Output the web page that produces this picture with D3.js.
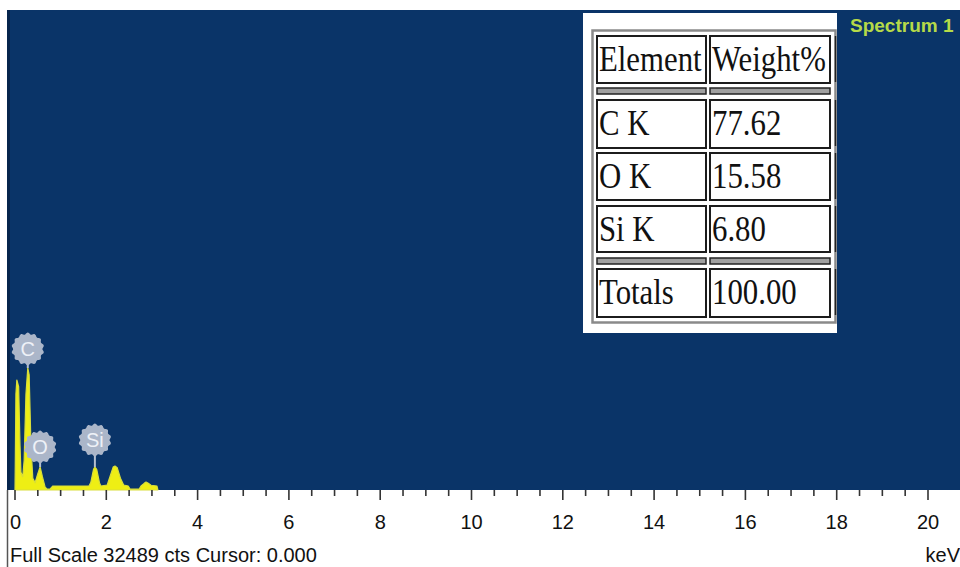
<!DOCTYPE html>
<html>
<head>
<meta charset="utf-8">
<script src="https://cdn.jsdelivr.net/npm/d3@7"></script>
<style>
  html, body { margin: 0; padding: 0; background: #ffffff; }
  svg { display: block; }
</style>
</head>
<body>
<svg id="chart" width="960" height="567"></svg>
<script>
// EDS spectrum: energy (keV) vs counts, with a quantification table.
const fullScale = 32489;
const energyKeV = [0.00, 0.005, 0.02, 0.04, 0.08, 0.11, 0.13, 0.17, 0.20, 0.24, 0.28, 0.31, 0.35,
  0.39, 0.44, 0.50, 0.55, 0.60, 0.66, 0.70, 0.77, 0.83, 1.62, 1.66, 1.72, 1.75, 1.79, 1.85, 1.88,
  2.02, 2.08, 2.15, 2.19, 2.24, 2.31, 2.38, 2.48, 2.52, 2.72, 2.76, 2.83, 2.87, 2.92, 2.98, 3.11, 3.13];
const counts = [0, 1500, 6500, 7446, 7000, 3000, 1200, 900, 2000, 6500, 8258, 7800, 3000,
  800, 500, 1100, 1557, 900, 200, 68, 68, 270, 270, 500, 1400, 1557, 1400, 500, 270,
  338, 900, 1550, 1625, 1500, 800, 338, 270, 68, 68, 270, 450, 541, 450, 320, 270, 0];

// Element line markers
const peakNames = ["C", "O", "Si"];
const peakKeV = [0.28, 0.55, 1.75];
const peakCounts = [8258, 1557, 1557];
const badgeCounts = [9544, 2911, 3385];

// Axis ticks
const tickLabels = [0, 2, 4, 6, 8, 10, 12, 14, 16, 18, 20];

// Quantification table
const tableHeader = ["Element", "Weight%"];
const tableElements = ["C K", "O K", "Si K"];
const tableWeights = ["77.62", "15.58", "6.80"];
const tableTotal = ["Totals", "100.00"];

const svg = d3.select("#chart");
const W = 960, H = 567;
const plot = { left: 7, top: 10, right: 960, bottom: 490 };

const x = d3.scaleLinear().domain([0, 20]).range([15, 928]);
const y = d3.scaleLinear().domain([0, fullScale]).range([plot.bottom, plot.top]);

// Plot background
svg.append("rect")
  .attr("x", plot.left).attr("y", plot.top)
  .attr("width", plot.right - plot.left).attr("height", plot.bottom - plot.top)
  .attr("fill", "#0a3468");
svg.append("rect")
  .attr("x", plot.left).attr("y", plot.top)
  .attr("width", 3).attr("height", plot.bottom - plot.top)
  .attr("fill", "#06254d");
// left frame line continuing under the axis
svg.append("line")
  .attr("x1", 7.5).attr("x2", 7.5).attr("y1", plot.bottom).attr("y2", H)
  .attr("stroke", "#555").attr("stroke-width", 1.5);

// Spectrum
const spectrum = energyKeV.map((e, i) => ({ e, c: counts[i] }));
const area = d3.area()
  .x(d => x(d.e))
  .y0(y(0))
  .y1(d => y(d.c))
  .curve(d3.curveLinear);
svg.append("path")
  .datum(spectrum)
  .attr("d", area)
  .attr("fill", "#eeee14")
  .attr("stroke", "#d9de3a")
  .attr("stroke-width", 1.2)
  .attr("stroke-linejoin", "round");

// Element badges
const gear = (r) => {
  const pts = d3.range(0, 360, 5).map(a => {
    const t = a * Math.PI / 180;
    return [t, r + 0.9 * Math.cos(14 * t)];
  });
  return d3.lineRadial().curve(d3.curveCardinalClosed)(pts);
};
const badgeR = 15.5;
const badges = svg.append("g").selectAll("g")
  .data(peakNames.map((n, i) => ({ n, e: peakKeV[i], pc: peakCounts[i], bc: badgeCounts[i] })))
  .join("g");
badges.append("line")
  .attr("x1", d => x(d.e)).attr("x2", d => x(d.e))
  .attr("y1", d => y(d.bc) + badgeR - 1).attr("y2", d => y(d.pc))
  .attr("stroke", "#b4bfd0").attr("stroke-width", 2);
badges.append("path")
  .attr("transform", d => `translate(${x(d.e)},${y(d.bc)})`)
  .attr("d", gear(badgeR))
  .attr("fill", "#abb6c9");
badges.append("text")
  .attr("x", d => x(d.e)).attr("y", d => y(d.bc) + 7)
  .attr("text-anchor", "middle")
  .attr("font-family", "Liberation Sans, Arial, sans-serif")
  .attr("font-size", 20)
  .attr("fill", "#eef1f7")
  .text(d => d.n);

// X axis ticks (every 0.5 keV, longer at labelled values)
const minorTicks = d3.range(0, 41).map(i => i * 0.5);
svg.append("g").selectAll("line")
  .data(minorTicks)
  .join("line")
  .attr("x1", d => x(d)).attr("x2", d => x(d))
  .attr("y1", plot.bottom)
  .attr("y2", d => plot.bottom + (d % 2 === 0 ? 10 : 6))
  .attr("stroke", "#333").attr("stroke-width", 1.6);

svg.append("g").selectAll("text")
  .data(tickLabels)
  .join("text")
  .attr("x", d => x(d)).attr("y", 529)
  .attr("text-anchor", d => d === 0 ? "start" : "middle")
  .attr("dx", d => d === 0 ? -5 : 0)
  .attr("font-family", "Liberation Sans, Arial, sans-serif")
  .attr("font-size", 20)
  .attr("fill", "#111")
  .text(d => d);

svg.append("text")
  .attr("x", 10).attr("y", 562)
  .attr("font-family", "Liberation Sans, Arial, sans-serif")
  .attr("font-size", 20)
  .attr("fill", "#111")
  .text(`Full Scale ${fullScale} cts Cursor: 0.000`);
svg.append("text")
  .attr("x", 960).attr("y", 562)
  .attr("text-anchor", "end")
  .attr("font-family", "Liberation Sans, Arial, sans-serif")
  .attr("font-size", 20)
  .attr("fill", "#111")
  .text("keV");

// Spectrum title
svg.append("text")
  .attr("x", 850).attr("y", 32)
  .attr("font-family", "Liberation Sans, Arial, sans-serif")
  .attr("font-size", 19)
  .attr("font-weight", "bold")
  .attr("fill", "#b6da48")
  .text("Spectrum 1");

// Quantification table
const tbl = svg.append("g");
tbl.append("rect")
  .attr("x", 583).attr("y", 13).attr("width", 254).attr("height", 320)
  .attr("fill", "#ffffff");
tbl.append("rect")
  .attr("x", 592.5).attr("y", 30.5).attr("width", 243).attr("height", 292)
  .attr("fill", "none").attr("stroke", "#8a8a8a").attr("stroke-width", 2.5);

const colX = [597, 710];
const colW = [109, 120];
const rows = [
  { type: "cell", top: 36, h: 47, vals: tableHeader },
  { type: "sep", top: 88, h: 6 },
  ...tableElements.map((el, i) => ({ type: "cell", top: [100, 153, 206][i], h: [48, 47, 46][i], vals: [el, tableWeights[i]] })),
  { type: "sep", top: 258, h: 6 },
  { type: "cell", top: 269, h: 48, vals: tableTotal }
];
rows.forEach(r => {
  colX.forEach((cx, j) => {
    if (r.type === "sep") {
      tbl.append("rect")
        .attr("x", cx).attr("y", r.top).attr("width", colW[j]).attr("height", r.h)
        .attr("fill", "#a0a0a0").attr("stroke", "#222").attr("stroke-width", 1.5);
    } else {
      tbl.append("rect")
        .attr("x", cx).attr("y", r.top).attr("width", colW[j]).attr("height", r.h)
        .attr("fill", "#ffffff").attr("stroke", "#1c1c1c").attr("stroke-width", 2);
      tbl.append("text")
        .attr("transform", `translate(${cx + 2},${r.top + 35}) scale(0.88,1)`)
        .attr("font-family", "Liberation Serif, Times New Roman, serif")
        .attr("font-size", 35)
        .attr("fill", "#111")
        .text(r.vals[j]);
    }
  });
});
// clipped cells of a further column at the box edge
[36, 100, 153, 206, 269].forEach(t => {
  tbl.append("line")
    .attr("x1", 835.5).attr("x2", 835.5).attr("y1", t).attr("y2", t + 46)
    .attr("stroke", "#222").attr("stroke-width", 1.5);
});
</script>
</body>
</html>
